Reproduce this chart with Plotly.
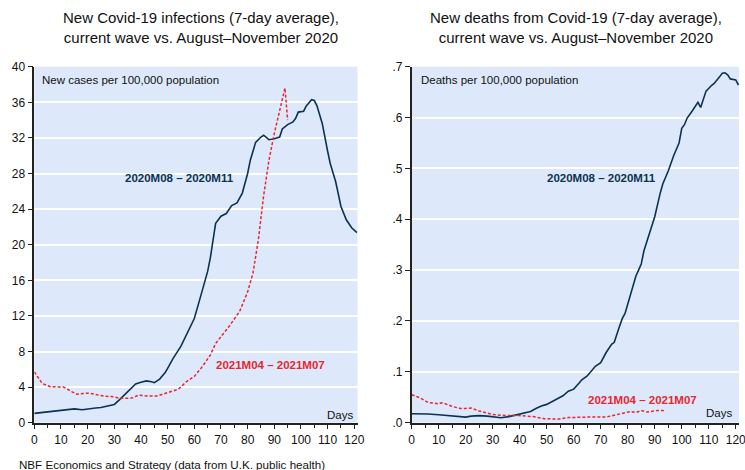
import plotly.graph_objects as go

# ---- Data ----
cases_2020_days = [0, 3, 6, 10, 13, 15, 18, 20, 23, 25, 28, 30, 32, 34, 36, 38, 40, 42, 44, 45, 47, 49,
                   50, 52, 55, 57, 60, 62, 65, 66, 68, 70, 72, 74, 76, 78, 80, 81, 83, 85, 86, 88, 90,
                   92, 93, 95, 97, 98, 99, 101, 102, 104, 105, 106, 108, 110, 111, 113, 115, 117, 119, 121]
cases_2020 = [1.05, 1.15, 1.25, 1.45, 1.55, 1.55, 1.45, 1.55, 1.65, 1.7, 1.9, 2.05, 2.6, 3.2, 3.8, 4.35,
              4.55, 4.7, 4.6, 4.5, 4.9, 5.6, 6.1, 7.2, 8.6, 9.9, 11.7, 13.8, 17.0, 18.5, 22.4, 23.2,
              23.5, 24.4, 24.7, 25.8, 28.0, 29.5, 31.5, 32.1, 32.3, 31.8, 31.9, 32.1, 33.0, 33.5, 33.8,
              34.2, 34.9, 35.0, 35.6, 36.3, 36.2, 35.6, 33.6, 30.5, 29.1, 27.1, 24.3, 22.8, 21.9, 21.35]

cases_2021_days = [0, 2, 3, 6, 9, 11, 14, 16, 19, 21, 24, 26, 30, 32, 35, 37, 39, 42, 46, 50, 54, 57,
                   60, 63, 66, 68, 71, 73, 77, 80, 82, 84, 86, 88, 90, 92, 94, 95]
cases_2021 = [5.7, 4.9, 4.4, 4.05, 4.0, 4.0, 3.5, 3.2, 3.3, 3.3, 3.1, 3.0, 2.9, 2.74, 2.75, 2.8, 3.1,
              3.0, 3.0, 3.4, 3.75, 4.6, 5.2, 6.3, 7.6, 8.9, 10.0, 10.8, 12.5, 14.7, 16.8, 20.5, 25.5,
              29.5, 32.5, 34.9, 37.6, 34.0]

deaths_2020_days = [0, 3, 6, 10, 15, 20, 22, 25, 28, 30, 33, 36, 39, 42, 44, 46, 48, 50, 52, 54, 56, 58,
                    60, 62, 63, 65, 67, 68, 70, 72, 74, 75, 77, 78, 79, 81, 83, 84, 85, 86, 88, 89, 90,
                    92, 93, 95, 97, 99, 100, 101, 102, 104, 106, 107, 108, 109, 111, 112, 114, 115, 116,
                    117, 118, 120, 121]
deaths_2020 = [0.0177, 0.018, 0.017, 0.0157, 0.013, 0.011, 0.013, 0.014, 0.013, 0.012, 0.0098, 0.012,
               0.016, 0.019, 0.022, 0.028, 0.033, 0.036, 0.042, 0.0485, 0.053, 0.062, 0.066, 0.078,
               0.0845, 0.092, 0.105, 0.111, 0.118, 0.138, 0.154, 0.158, 0.19, 0.205, 0.215, 0.25,
               0.288, 0.30, 0.312, 0.338, 0.37, 0.385, 0.405, 0.451, 0.47, 0.495, 0.525, 0.55, 0.579,
               0.586, 0.599, 0.614, 0.630, 0.62, 0.635, 0.652, 0.663, 0.667, 0.68, 0.687, 0.688,
               0.684, 0.676, 0.674, 0.664]

deaths_2021_days = [0, 3, 6, 8, 10, 11, 12, 15, 18, 20, 22, 25, 28, 30, 35, 40, 45, 49, 54, 58, 65, 70,
                    72, 76, 79, 81, 83, 85, 87, 89, 91, 93, 94]
deaths_2021 = [0.055, 0.049, 0.040, 0.039, 0.037, 0.039, 0.038, 0.032, 0.028, 0.028, 0.029, 0.023,
               0.019, 0.016, 0.014, 0.014, 0.012, 0.008, 0.007, 0.010, 0.011, 0.010, 0.011, 0.016,
               0.019, 0.022, 0.020, 0.024, 0.021, 0.023, 0.024, 0.024, 0.022]

cases_ticks = [0, 4, 8, 12, 16, 20, 24, 28, 32, 36, 40]
deaths_ticks = [0, 0.1, 0.2, 0.3, 0.4, 0.5, 0.6, 0.7]
deaths_ticktext = ['.0', '.1', '.2', '.3', '.4', '.5', '.6', '.7']
x_grid = [20, 40, 60, 80, 100, 120]

# ---- Styles ----
NAVY = '#0B3350'
RED = '#E8262E'
BG = '#DDE9FB'
AXC = '#222222'
FONT = 'Liberation Sans, Arial, sans-serif'

W, H = 745, 470


def px(x):
    return x / W


def py(y):
    return 1 - y / H


fig = go.Figure()
fig.add_trace(go.Scatter(x=cases_2020_days, y=cases_2020, mode='lines',
                         line=dict(color=NAVY, width=1.6), xaxis='x', yaxis='y'))
fig.add_trace(go.Scatter(x=cases_2021_days, y=cases_2021, mode='lines',
                         line=dict(color=RED, width=1.5, dash='3px,2px'), xaxis='x', yaxis='y'))
fig.add_trace(go.Scatter(x=deaths_2020_days, y=deaths_2020, mode='lines',
                         line=dict(color=NAVY, width=1.6), xaxis='x2', yaxis='y2'))
fig.add_trace(go.Scatter(x=deaths_2021_days, y=deaths_2021, mode='lines',
                         line=dict(color=RED, width=1.5, dash='3px,2px'), xaxis='x2', yaxis='y2'))

L_dom = [px(34.3), px(357.5)]
R_dom = [px(411.7), px(739.0)]
Y_dom = [py(422.7), py(66.7)]
XR = [0, 121.2]

xcommon = dict(range=XR, dtick=10, tick0=0, showgrid=False, zeroline=False, automargin=False,
               ticklabeloverflow='allow',
               showline=True, linecolor=AXC, linewidth=1.5, ticks='outside', ticklen=5,
               tickcolor=AXC, tickwidth=1, tickfont=dict(size=12, color='#111', family=FONT),
               minor=dict(dtick=5, ticks='outside', ticklen=4, tickcolor=AXC, showgrid=False))
gridx = dict(range=XR, tickvals=x_grid, showgrid=True, gridcolor='white', gridwidth=1.5,
             automargin=False, showticklabels=False, ticks='', showline=False, zeroline=False)
ycommon = dict(showgrid=True, gridcolor='white', gridwidth=1.5, zeroline=False, automargin=False,
               ticklabeloverflow='allow',
               showline=True, linecolor=AXC, linewidth=1.5, ticks='outside', ticklen=5,
               tickcolor=AXC, tickwidth=1, tickfont=dict(size=12, color='#111', family=FONT))

fig.update_layout(
    template='none',
    width=W, height=H, margin=dict(l=0, r=0, t=0, b=0, pad=0), autosize=False,
    paper_bgcolor='white', plot_bgcolor=BG, showlegend=False,
    font=dict(family=FONT, color='#111'),
    xaxis=dict(domain=L_dom, anchor='y', **xcommon),
    yaxis=dict(domain=Y_dom, anchor='x', range=[0, 40], tickvals=cases_ticks, **ycommon),
    xaxis2=dict(domain=R_dom, anchor='y2', **xcommon),
    yaxis2=dict(domain=Y_dom, anchor='x2', range=[0, 0.7], tickvals=deaths_ticks,
                ticktext=deaths_ticktext, **ycommon),
    xaxis3=dict(overlaying='x', anchor='y', **gridx),
    xaxis4=dict(overlaying='x2', anchor='y2', **gridx),
)


def ann(text, x, y, xanchor='left', yanchor='middle', size=11.5, color='#111', bold=False):
    if bold:
        text = '<b>' + text + '</b>'
    fig.add_annotation(text=text, x=px(x), y=py(y), xref='paper', yref='paper',
                       xanchor=xanchor, yanchor=yanchor, showarrow=False,
                       font=dict(size=size, color=color, family=FONT))


# Titles
ann('New Covid-19 infections (7-day average),<br>current wave vs. August\u2013November 2020',
    201, 27, xanchor='center', size=15)
ann('New deaths from Covid-19 (7-day average),<br>current wave vs. August\u2013November 2020',
    576, 27, xanchor='center', size=15)

# In-plot labels
ann('New cases per 100,000 population', 40, 80)
ann('Deaths per 100,000 population', 419, 80)
ann('2020M08 \u2013 2020M11', 179, 178, xanchor='center', color=NAVY, bold=True)
ann('2021M04 \u2013 2021M07', 270, 365, xanchor='center', color=RED, bold=True)
ann('2020M08 \u2013 2020M11', 601, 178, xanchor='center', color=NAVY, bold=True)
ann('2021M04 \u2013 2021M07', 642, 400, xanchor='center', color=RED, bold=True)
ann('Days', 355, 415, xanchor='right')
ann('Days', 734, 413, xanchor='right')

# Footer
ann('NBF Economics and Strategy (data from U.K. public health)', 17, 464, size=11.6)

fig.write_html('out.html', config={'displayModeBar': False},
               post_script="document.body.style.margin='0';document.documentElement.style.overflow='hidden';")
